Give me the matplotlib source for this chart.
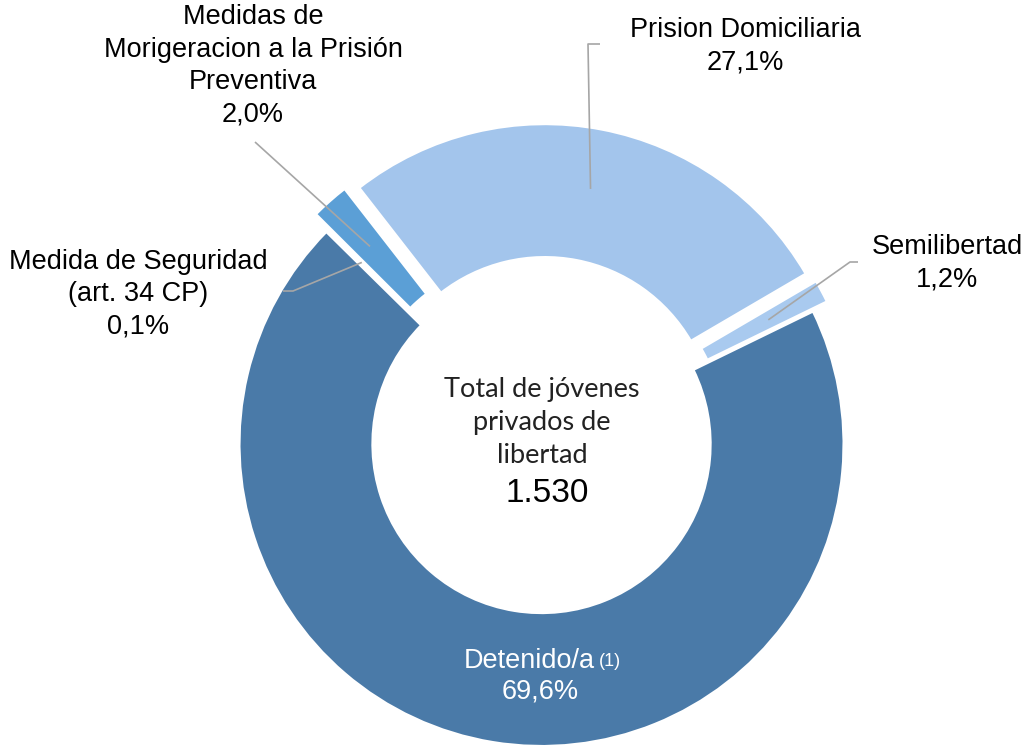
import numpy as np
import matplotlib.pyplot as plt

# Data
categorias = ['Detenido/a', 'Medida de Seguridad\n(art. 34 CP)',
              'Medidas de\nMorigeracion a la Prisión\nPreventiva',
              'Prision Domiciliaria', 'Semilibertad']
porcentajes = [69.6, 0.1, 2.0, 27.1, 1.2]
etiquetas_pct = ['69,6%', '0,1%', '2,0%', '27,1%', '1,2%']
total = '1.530'

colores = ['#4a7aa8', '#3f6f9e', '#5b9fd6', '#a3c5ec', '#a9caef']
explode = [0.01, 0.04, 0.06, 0.05, 0.05]

W, H = 1025, 749
cx, cy, R = 542, 441, 302   # pie centre / radius in pixels


def px(x, y):
    # pixel position -> data coords (radius 1 == R px)
    return (x - cx) / R, (cy - y) / R


fig = plt.figure(figsize=(W / 100, H / 100), dpi=100)
ax = fig.add_axes([0, 0, 1, 1])

wedges, _ = ax.pie(porcentajes, colors=colores, explode=explode,
                   startangle=26, counterclock=False, radius=1,
                   wedgeprops=dict(width=0.44, edgecolor='white', linewidth=1.5))
ax.set_aspect('auto')
ax.set_xlim(-cx / R, (W - cx) / R)
ax.set_ylim(-(H - cy) / R, cy / R)
ax.axis('off')

font = 'Liberation Sans'
fs = 19.5

# leader lines: text side points (elbow) then anchor on the wedge
lineas = {
    1: [px(283, 291), px(293, 291)],
    2: [px(255, 142)],
    3: [px(600, 44), px(588, 44)],
    4: [px(858, 262), px(850, 262)],
}
for i, pts in lineas.items():
    w = wedges[i]
    mid = np.deg2rad((w.theta1 + w.theta2) / 2)
    ax_, ay_ = w.center[0] + 0.8 * np.cos(mid), w.center[1] + 0.8 * np.sin(mid)
    xs = [p[0] for p in pts] + [ax_]
    ys = [p[1] for p in pts] + [ay_]
    ax.plot(xs, ys, color='#a6a6a6', lw=1.2, solid_capstyle='butt')

# outside labels
pos = {1: (138, 294), 2: (253, 66), 3: (745, 46), 4: (947, 263)}
for i, (x, y) in pos.items():
    ax.text(*px(x, y), categorias[i] + '\n' + etiquetas_pct[i],
            ha='center', va='center', fontsize=fs, family=font,
            linespacing=1.32, color='black')

# inside label for Detenido/a
ax.text(*px(595, 661), categorias[0], ha='right', va='center',
        fontsize=fs, family=font, color='white')
ax.text(*px(599, 662), '(1)', ha='left', va='center',
        fontsize=13, family=font, color='white')
ax.text(*px(540, 691), etiquetas_pct[0], ha='center', va='center',
        fontsize=fs, family=font, color='white')

# centre text
ax.text(*px(542, 423), 'Total de jóvenes\nprivados de\nlibertad',
        ha='center', va='center', fontsize=19.5, family='Lato',
        linespacing=1.4, color='#222222')
ax.text(*px(547, 494), total, ha='center', va='center',
        fontsize=24, family=font, color='black')

fig.savefig('out.png', dpi=100)
